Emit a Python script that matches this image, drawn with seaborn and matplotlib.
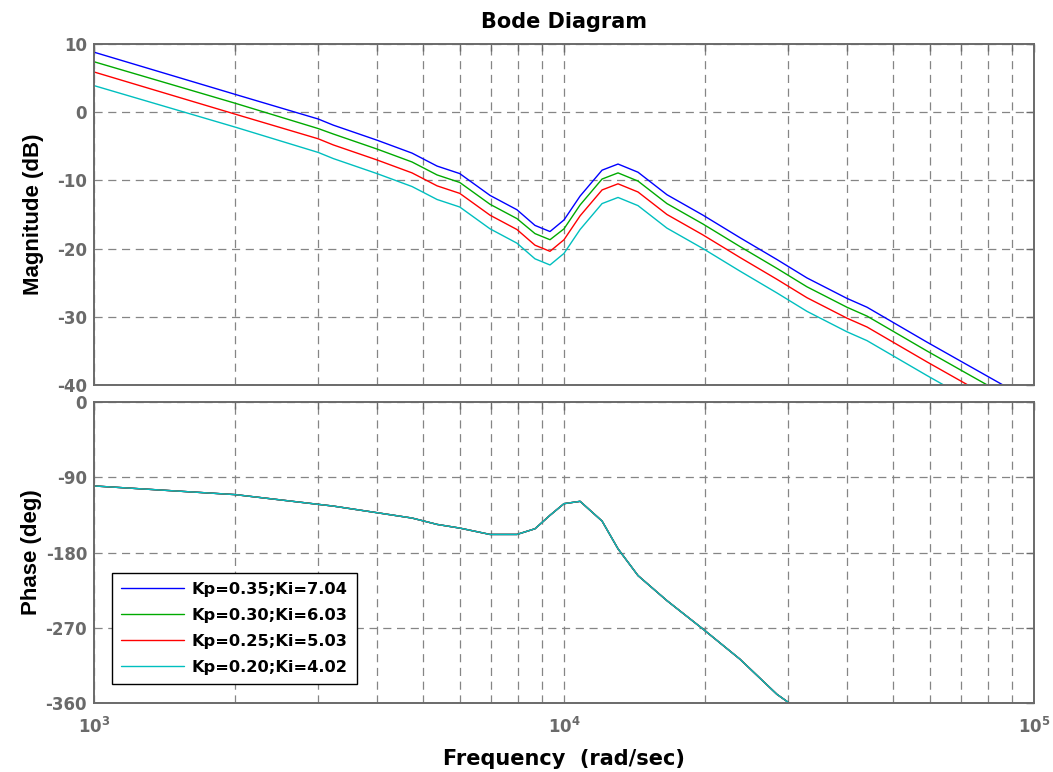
import numpy as np
import pandas as pd
import matplotlib
matplotlib.use("Agg")
import matplotlib.pyplot as plt
from matplotlib.ticker import FixedLocator, FixedFormatter, NullFormatter, LogLocator
import seaborn as sns

# Frequency grid (rad/sec) shared by all responses
freq_rad_s = [1000, 2000, 3000, 3230, 4000, 4750, 5370, 6000, 6960, 7940,
              8675, 9337, 10000, 10820, 12050, 13030, 14370, 16560, 19760,
              23680, 28380, 32880, 40000, 44140, 59150, 70640, 85900, 100000]

# Magnitude (dB) for each PI tuning
mag_kp035 = [8.8, 2.6, -1.0, -1.9, -4.1, -6.0, -7.9, -9.0, -12.2, -14.3,
             -16.6, -17.5, -15.8, -12.3, -8.5, -7.6, -8.8, -12.1, -15.1,
             -18.4, -21.6, -24.3, -27.3, -28.6, -33.7, -36.7, -40.0, -42.5]
mag_kp030 = [7.4, 1.3, -2.4, -3.2, -5.4, -7.3, -9.2, -10.3, -13.5, -15.6,
             -17.8, -18.7, -17.1, -13.6, -9.8, -8.9, -10.1, -13.4, -16.4,
             -19.7, -22.9, -25.6, -28.6, -29.9, -35.0, -38.0, -41.3, -43.8]
mag_kp025 = [5.9, -0.3, -3.9, -4.8, -7.0, -8.9, -10.8, -11.9, -15.1, -17.2,
             -19.5, -20.4, -18.7, -15.2, -11.4, -10.5, -11.7, -15.0, -18.0,
             -21.3, -24.5, -27.2, -30.2, -31.5, -36.6, -39.6, -42.9, -45.4]
mag_kp020 = [3.9, -2.2, -5.9, -6.8, -9.0, -10.9, -12.8, -13.9, -17.1, -19.2,
             -21.5, -22.4, -20.7, -17.2, -13.4, -12.5, -13.7, -17.0, -20.0,
             -23.3, -26.5, -29.2, -32.2, -33.5, -38.6, -41.6, -44.9, -47.4]

# Phase (deg) -- identical for the four tunings (same Ki/Kp ratio)
phase_freq_rad_s = freq_rad_s[:22]
phase_deg = [-100.4, -110.8, -122.4, -124.5, -132.4, -138.8, -146.4, -150.8,
             -158.4, -158.4, -151.6, -135.5, -121.6, -118.8, -142.4, -175.6,
             -207.6, -237.6, -271.6, -307.6, -349.6, -375.0]

series_labels = ["Kp=0.35;Ki=7.04", "Kp=0.30;Ki=6.03",
                 "Kp=0.25;Ki=5.03", "Kp=0.20;Ki=4.02"]
series_colors = ["#0000ff", "#00aa00", "#ff0000", "#00bfbf"]

mag_tick_values = [-40, -30, -20, -10, 0, 10]
phase_tick_values = [-360, -270, -180, -90, 0]
freq_tick_values = [1e3, 1e4, 1e5]
freq_tick_labels = [r"$\mathbf{10^{3}}$", r"$\mathbf{10^{4}}$", r"$\mathbf{10^{5}}$"]

# Long-form tables for seaborn
mag_df = pd.DataFrame({
    "freq": freq_rad_s * 4,
    "value": mag_kp035 + mag_kp030 + mag_kp025 + mag_kp020,
    "series": np.repeat(series_labels, len(freq_rad_s)),
})
phase_df = pd.DataFrame({
    "freq": phase_freq_rad_s * 4,
    "value": phase_deg * 4,
    "series": np.repeat(series_labels, len(phase_freq_rad_s)),
})

sns.set_style("white")
plt.rcParams["font.family"] = ["DejaVu Sans"]
plt.rcParams["font.weight"] = "bold"
plt.rcParams["text.color"] = "black"
plt.rcParams["axes.labelcolor"] = "black"
plt.rcParams["axes.labelweight"] = "bold"
plt.rcParams["axes.titleweight"] = "bold"
plt.rcParams["mathtext.fontset"] = "dejavusans"

W, H = 1053, 772
fig = plt.figure(figsize=(W / 100, H / 100), dpi=100)
ax_mag = fig.add_axes([94 / W, 1 - 385 / H, 940 / W, 341 / H])
ax_ph = fig.add_axes([94 / W, 1 - 703 / H, 940 / W, 301 / H])

palette = dict(zip(series_labels, series_colors))
frame_color = "#6a6a6a"
grid_color = "#858585"
grid_dash = (0, (6.5, 4.5))

for ax in (ax_mag, ax_ph):
    ax.set_xscale("log")

sns.lineplot(data=mag_df, x="freq", y="value", hue="series", hue_order=series_labels,
             palette=palette, estimator=None, sort=False, linewidth=1.0,
             legend=False, ax=ax_mag)
sns.lineplot(data=phase_df, x="freq", y="value", hue="series", hue_order=series_labels,
             palette=palette, estimator=None, sort=False, linewidth=1.0,
             legend=False, ax=ax_ph)

for ax, yt in ((ax_mag, mag_tick_values), (ax_ph, phase_tick_values)):
    ax.set_xlim(1e3, 1e5)
    ax.set_ylim(yt[0], yt[-1])
    ax.yaxis.set_major_locator(FixedLocator(yt))
    ax.set_yticklabels([str(v) for v in yt])
    ax.xaxis.set_major_locator(FixedLocator(freq_tick_values))
    ax.xaxis.set_minor_locator(LogLocator(base=10, subs=np.arange(2, 10)))
    ax.xaxis.set_minor_formatter(NullFormatter())
    ax.grid(True, which="major", axis="both", color=grid_color,
            linestyle=grid_dash, linewidth=0.9)
    ax.grid(True, which="minor", axis="x", color=grid_color,
            linestyle=grid_dash, linewidth=0.9)
    for sp in ax.spines.values():
        sp.set_color(frame_color)
        sp.set_linewidth(1.4)
    ax.tick_params(which="both", direction="in", top=True, right=True,
                   color=frame_color, labelcolor=frame_color, width=1.0)
    ax.tick_params(axis="y", labelsize=12, pad=5)
    ax.tick_params(which="major", length=6)
    ax.tick_params(which="minor", length=5)
    ax.set_xlabel("")

ax_mag.xaxis.set_major_formatter(NullFormatter())
ax_ph.xaxis.set_major_formatter(FixedFormatter(freq_tick_labels))
ax_ph.tick_params(axis="x", labelsize=12, pad=10)

ax_mag.set_title("Bode Diagram", fontsize=15, fontweight="bold", color="black", pad=11.5)
ylabel_font = {"family": ["Liberation Sans", "DejaVu Sans"], "size": 16,
               "weight": "bold", "color": "black"}
ax_mag.set_ylabel("Magnitude (dB)", fontdict=ylabel_font)
ax_ph.set_ylabel("Phase (deg)", fontdict=ylabel_font)
ax_mag.yaxis.set_label_coords(-0.053, 0.5)
ax_ph.yaxis.set_label_coords(-0.055, 0.5)
ax_ph.set_xlabel("Frequency  (rad/sec)", fontsize=15, fontweight="bold",
                 color="black", labelpad=9)

handles = ax_ph.get_lines()[:4]
leg = ax_ph.legend(handles, series_labels, loc="lower left",
                   bbox_to_anchor=(18 / 940, 19 / 301), borderaxespad=0,
                   prop={"family": "DejaVu Sans", "weight": "bold", "size": 11.7},
                   frameon=True, fancybox=False, framealpha=1,
                   edgecolor="black", handlelength=3.9, handletextpad=0.45,
                   labelspacing=0.68, borderpad=0.55)
leg.get_frame().set_linewidth(1.0)
for t in leg.get_texts():
    t.set_color("black")

fig.savefig("out.png", dpi=100, facecolor="white")
